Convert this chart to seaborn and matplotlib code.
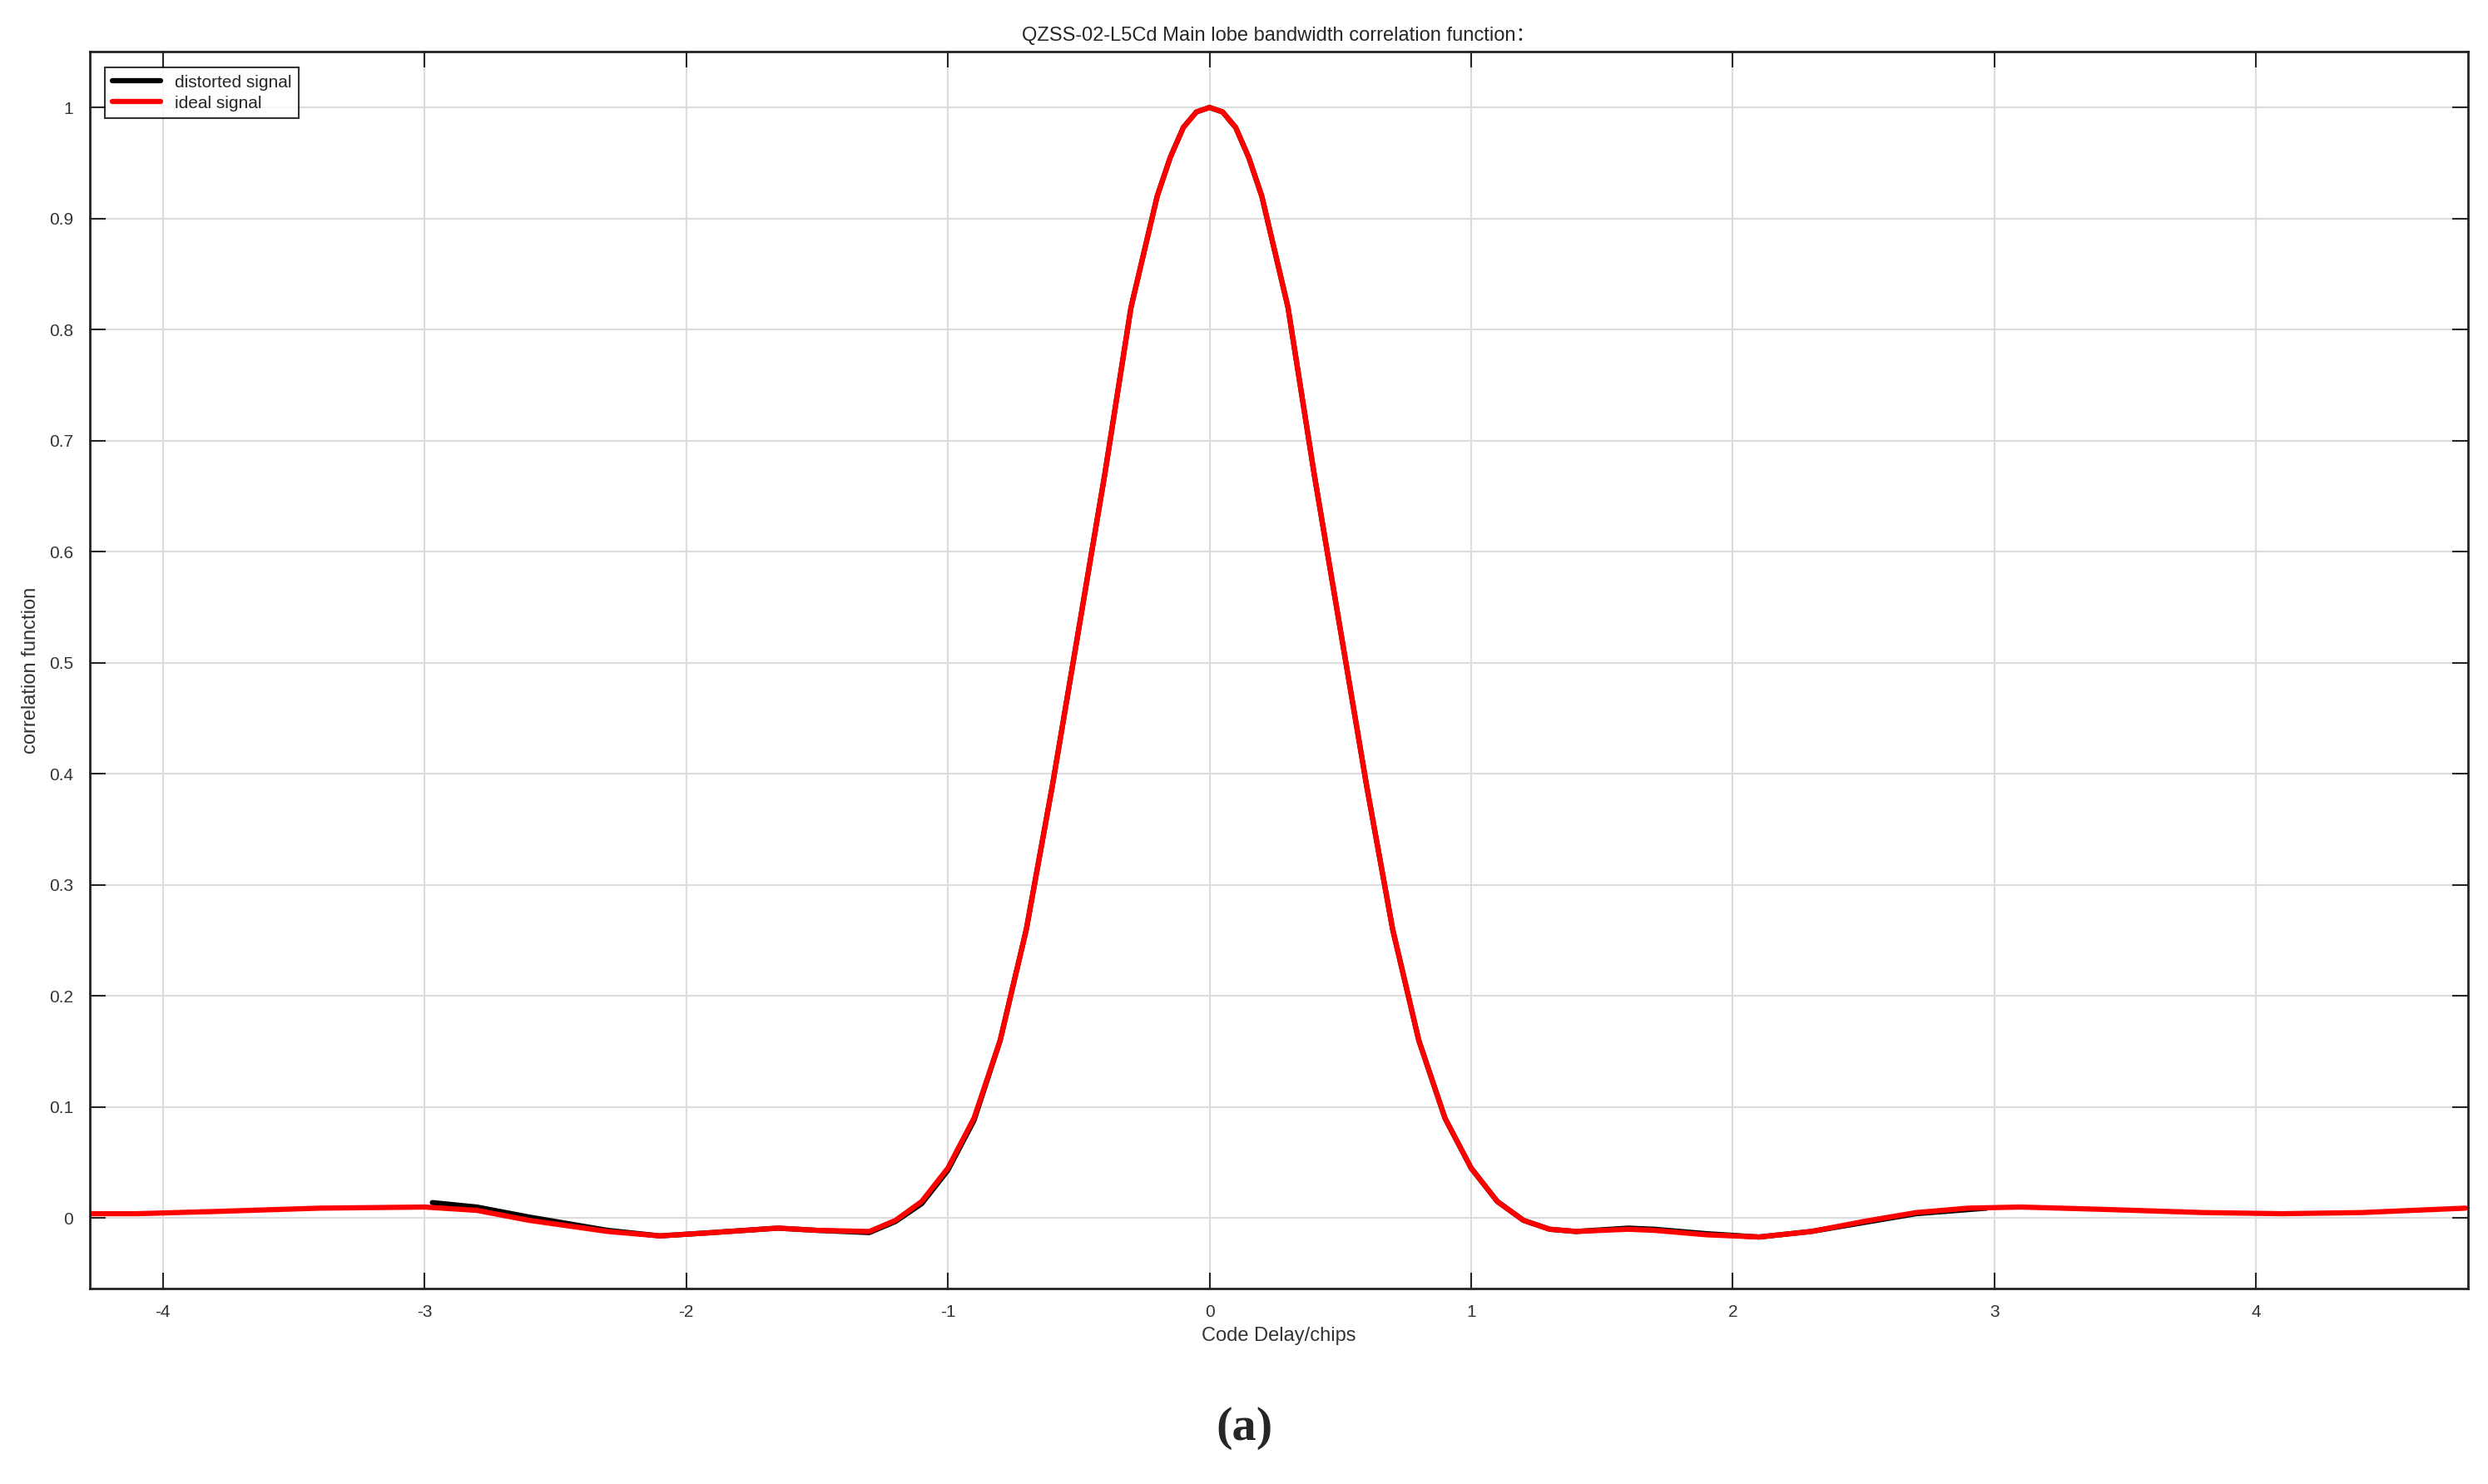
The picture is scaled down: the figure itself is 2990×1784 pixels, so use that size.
import matplotlib
matplotlib.use("Agg")
import matplotlib.pyplot as plt
import seaborn as sns
import pandas as pd

# Correlation function samples
delay = [-4.3, -4.1, -3.8, -3.4, -3.0, -2.8, -2.6, -2.3, -2.1, -1.9, -1.65, -1.5, -1.3,
         -1.2, -1.1, -1.0, -0.9, -0.8, -0.7, -0.6, -0.5, -0.4, -0.3, -0.2, -0.15, -0.1, -0.05, 0.0,
         0.05, 0.1, 0.15, 0.2, 0.3, 0.4, 0.5, 0.6, 0.7, 0.8, 0.9, 1.0, 1.1, 1.2, 1.3, 1.4, 1.6,
         1.7, 1.9, 2.1, 2.3, 2.5, 2.7, 2.9, 3.1, 3.4, 3.8, 4.1, 4.4, 4.8]
ideal = [0.004, 0.004, 0.006, 0.009, 0.010, 0.007, -0.002, -0.012, -0.016, -0.013, -0.009, -0.011, -0.012,
         -0.002, 0.015, 0.045, 0.09, 0.16, 0.26, 0.39, 0.53, 0.67, 0.82, 0.92, 0.955, 0.982, 0.996, 1.0,
         0.996, 0.982, 0.955, 0.92, 0.82, 0.67, 0.53, 0.39, 0.26, 0.16, 0.09, 0.045, 0.015, -0.002, -0.01, -0.012, -0.010,
         -0.011, -0.015, -0.017, -0.012, -0.003, 0.005, 0.009, 0.010, 0.008, 0.005, 0.004, 0.005, 0.009]

dist_delay = [-2.97, -2.8, -2.6, -2.3, -2.1, -1.9, -1.65, -1.5, -1.3, -1.2, -1.1, -1.0, -0.9, -0.8,
              -0.7, -0.6, -0.5, -0.4, -0.3, -0.2, -0.15, -0.1, -0.05, 0.0, 0.05, 0.1, 0.15, 0.2, 0.3,
              0.4, 0.5, 0.6, 0.7, 0.8, 0.9, 1.0, 1.1, 1.2, 1.3, 1.4, 1.6, 1.7, 1.9, 2.1, 2.3, 2.5, 2.7, 2.97]
distorted = [0.014, 0.010, 0.001, -0.011, -0.016, -0.013, -0.009, -0.011, -0.013, -0.003, 0.013, 0.043,
             0.088, 0.16, 0.26, 0.39, 0.53, 0.67, 0.82, 0.92, 0.955, 0.982, 0.996, 1.0, 0.996, 0.982,
             0.955, 0.92, 0.82, 0.67, 0.53, 0.39, 0.26, 0.16, 0.09, 0.045, 0.015, -0.002, -0.01, -0.012,
             -0.009, -0.010, -0.014, -0.017, -0.012, -0.004, 0.004, 0.009]

sns.set_style("white")
plt.rcParams["font.family"] = ["Liberation Sans", "Noto Sans CJK SC", "DejaVu Sans"]
plt.rcParams["axes.unicode_minus"] = False

fig = plt.figure(figsize=(29.9, 17.84), dpi=100)
ax = fig.add_axes([0.036, 0.132, 0.956, 0.833])

sns.lineplot(x=dist_delay, y=distorted, ax=ax, color="black", linewidth=4.5, label="distorted signal")
sns.lineplot(x=delay, y=ideal, ax=ax, color="#ff0000", linewidth=4.5, label="ideal signal")

ax.set_xlim(-4.28, 4.81)
ax.set_ylim(-0.063, 1.05)
ax.set_xticks(range(-4, 5))
ax.set_yticks([0, 0.1, 0.2, 0.3, 0.4, 0.5, 0.6, 0.7, 0.8, 0.9, 1])
ax.set_yticklabels(["0", "0.1", "0.2", "0.3", "0.4", "0.5", "0.6", "0.7", "0.8", "0.9", "1"])
ax.grid(True, color="#dcdcdc", linewidth=1.5)
ax.tick_params(direction="in", length=14, width=1.5, labelsize=15, top=True, right=True,
               bottom=True, left=True, pad=14, labelcolor="#333333")
for s in ax.spines.values():
    s.set_linewidth(2)
    s.set_color("#222222")

ax.set_title("QZSS-02-L5Cd Main lobe bandwidth correlation function\uff1a", fontsize=17, pad=10)
ax.set_xlabel("Code Delay/chips", fontsize=17, labelpad=6, color="#333333")
ax.set_ylabel("correlation function", fontsize=17, labelpad=8, color="#333333")

leg = ax.legend(loc="upper left", fontsize=15, frameon=True, fancybox=False, borderpad=0.4,
                handlelength=2.8, labelspacing=0.3, borderaxespad=0.9)
leg.get_frame().set_edgecolor("black")
leg.get_frame().set_linewidth(1.5)

fig.text(0.5, 0.03, "(a)", ha="center", fontsize=42, fontweight="bold", family="Liberation Serif")

fig.savefig("out.png", dpi=100)
